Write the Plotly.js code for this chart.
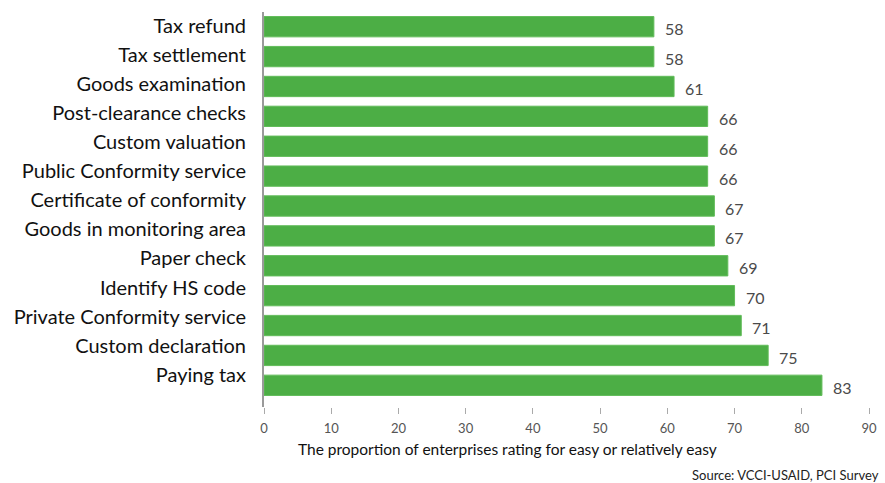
<!DOCTYPE html>
<html>
<head>
<meta charset="utf-8">
<script src="https://cdn.plot.ly/plotly-3.0.1.min.js"></script>
<style>html,body{margin:0;padding:0;background:#fff;}#chart{width:885px;height:483px;}</style>
</head>
<body>
<div id="chart"></div>
<script>
const categories = [
  "Tax refund",
  "Tax settlement",
  "Goods examination",
  "Post-clearance checks",
  "Custom valuation",
  "Public Conformity service",
  "Certificate of conformity",
  "Goods in monitoring area",
  "Paper check",
  "Identify HS code",
  "Private Conformity service",
  "Custom declaration",
  "Paying tax"
];
const values = [58, 58, 61, 66, 66, 66, 67, 67, 69, 70, 71, 75, 83];
const xTickValues = [0, 10, 20, 30, 40, 50, 60, 70, 80, 90];
const axisTitle = "The proportion of enterprises rating for easy or relatively easy";
const sourceText = "Source: VCCI-USAID, PCI Survey";

const FONT = "Lato, 'Open Sans', sans-serif";

const bars = {
  type: "bar",
  orientation: "h",
  x: values,
  y: categories,
  marker: {color: "#4cae45", line: {color: "#62bc5a", width: 1}},
  hoverinfo: "x+y",
  showlegend: false
};

// invisible trace carrying the category labels on a second axis
const labelTrace = {
  type: "scatter",
  mode: "markers",
  x: values.map(() => 0),
  y: categories,
  yaxis: "y2",
  marker: {opacity: 0},
  hoverinfo: "skip",
  showlegend: false
};

const valueAnnotations = categories.map((c, i) => ({
  x: values[i], y: c, xref: "x", yref: "y",
  text: String(values[i]),
  showarrow: false, xanchor: "left", yanchor: "middle",
  xshift: 9, yshift: -2,
  font: {family: FONT, size: 16, color: "#4a4a4a"}
}));

const layout = {
  width: 885, height: 483,
  margin: {l: 264, r: 16, t: 12, b: 76},
  paper_bgcolor: "#ffffff",
  plot_bgcolor: "#ffffff",
  bargap: 0.32,
  font: {family: FONT},
  xaxis: {
    range: [0, 90],
    tickvals: xTickValues,
    ticks: "outside", ticklen: 6, tickwidth: 1, tickcolor: "#aaaaaa",
    showgrid: false, zeroline: false, showline: false,
    tickfont: {family: FONT, size: 13, color: "#555555"},
    ticklabelstandoff: 3,
    fixedrange: true
  },
  yaxis: {
    type: "category",
    categoryarray: categories,
    range: [12.726, -0.492],
    showticklabels: false,
    ticks: "",
    showgrid: false, zeroline: false,
    showline: true, linecolor: "#9a9a9a", linewidth: 2,
    fixedrange: true
  },
  yaxis2: {
    type: "category",
    categoryarray: categories,
    overlaying: "y",
    side: "left",
    range: [13.1, -0.4635],
    showgrid: false, zeroline: false, showline: false,
    ticks: "",
    ticklabelstandoff: 17,
    tickfont: {family: FONT, size: 20, color: "#111111"},
    fixedrange: true
  },
  annotations: valueAnnotations.concat([
    {
      text: axisTitle, xref: "paper", yref: "paper",
      x: 0.4025, y: -0.107, xanchor: "center", yanchor: "middle",
      showarrow: false,
      font: {family: FONT, size: 15.5, color: "#111111"}
    },
    {
      text: sourceText, xref: "paper", yref: "paper",
      x: 1.02, y: -0.172, xanchor: "right", yanchor: "middle",
      showarrow: false,
      font: {family: FONT, size: 13, color: "#222222"}
    }
  ])
};

Plotly.newPlot("chart", [bars, labelTrace], layout, {displayModeBar: false, staticPlot: true});
</script>
</body>
</html>
